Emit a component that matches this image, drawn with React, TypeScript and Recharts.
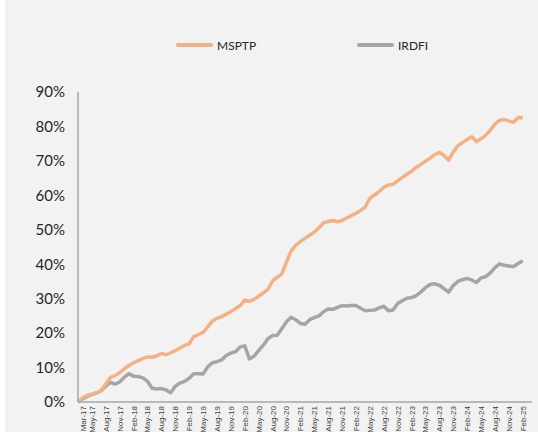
import { Line, LineChart, XAxis, YAxis } from "recharts";

// monthly index 0 = Feb-17 ... 96 = Feb-25, cumulative % change
const MSPTP = [
  0, 1.2, 1.9, 2.3, 2.7, 3.4, 5.2, 7.1, 7.7, 8.5,
  9.6, 10.6, 11.4, 12.0, 12.6, 13.1, 13.0, 13.4, 14.1, 13.7,
  14.3, 14.9, 15.7, 16.4, 16.9, 19.0, 19.6, 20.2, 21.8, 23.5,
  24.3, 24.8, 25.5, 26.3, 27.1, 28.0, 29.6, 29.2, 29.8, 30.7,
  31.7, 32.7, 35.2, 36.2, 37.2, 40.6, 43.8, 45.5, 46.6, 47.5,
  48.4, 49.3, 50.6, 52.0, 52.4, 52.7, 52.3, 52.7, 53.4, 54.1,
  54.8, 55.6, 56.6, 59.1, 60.1, 61.1, 62.3, 63.0, 63.2, 64.2,
  65.2, 66.1, 67.0, 68.1, 69.0, 69.9, 70.8, 71.8, 72.5, 71.6,
  70.2, 72.6, 74.4, 75.3, 76.2, 77.0, 75.6, 76.4, 77.4, 78.9,
  80.7, 81.8, 82.0, 81.6, 81.2, 82.6, 82.5,
];

const IRDFI = [
  0, 0.9, 1.6, 2.2, 2.6, 3.3, 4.6, 5.7, 5.2, 5.8,
  7.2, 8.2, 7.5, 7.4, 7.0, 6.0, 4.0, 3.8, 3.9, 3.5,
  2.7, 4.6, 5.5, 6.0, 6.9, 8.2, 8.2, 8.1, 10.2, 11.4,
  11.7, 12.2, 13.5, 14.2, 14.6, 16.0, 16.3, 12.5, 13.3, 14.9,
  16.5, 18.4, 19.3, 19.4, 21.3, 23.3, 24.6, 23.9, 22.8, 22.6,
  23.9, 24.5, 25.0, 26.2, 27.0, 26.9, 27.5, 28.0, 27.9, 28.0,
  28.0, 27.2, 26.5, 26.6, 26.7, 27.3, 27.8, 26.5, 26.7, 28.6,
  29.4, 30.1, 30.3, 30.9, 31.9, 33.2, 34.1, 34.3, 33.9, 32.9,
  31.9, 33.8, 35.0, 35.5, 35.9, 35.4, 34.7, 36.0, 36.4, 37.5,
  39.0, 40.1, 39.7, 39.5, 39.3, 40.2, 41.0,
];

const tickIdx = [
  1, 3, 6, 9, 12, 15, 18, 21, 24, 27, 30, 33, 36, 39, 42, 45, 48,
  51, 54, 57, 60, 63, 66, 69, 72, 75, 78, 81, 84, 87, 90, 93, 96,
];
const tickLabels = [
  "Mar-17", "May-17", "Aug-17", "Nov-17", "Feb-18", "May-18", "Aug-18", "Nov-18",
  "Feb-19", "May-19", "Aug-19", "Nov-19", "Feb-20", "May-20", "Aug-20", "Nov-20",
  "Feb-21", "May-21", "Aug-21", "Nov-21", "Feb-22", "May-22", "Aug-22", "Nov-22",
  "Feb-23", "May-23", "Aug-23", "Nov-23", "Feb-24", "May-24", "Aug-24", "Nov-24",
  "Feb-25",
];
const yTicks = [0, 10, 20, 30, 40, 50, 60, 70, 80, 90];

const data = MSPTP.map((v, i) => ({ i, MSPTP: v, IRDFI: IRDFI[i] }));

const ORANGE = "#F4B183";
const GREY = "#A5A5A5";
const FONT = "Lato, 'Liberation Sans', sans-serif";

function XTick({ x, y, payload }: any) {
  const label = tickLabels[tickIdx.indexOf(payload.value)] ?? "";
  return (
    <g transform={`translate(${x},${y})`}>
      <text
        transform="rotate(-90)"
        x={-4}
        y={3}
        textAnchor="end"
        fontSize={8}
        fontFamily="'Liberation Sans', sans-serif"
        fill="#404040"
      >
        {label}
      </text>
    </g>
  );
}

function LegendItem({ color, label, left }: { color: string; label: string; left: number }) {
  return (
    <div style={{ position: "absolute", left, top: 37, display: "flex", alignItems: "center", height: 16 }}>
      <span style={{ width: 37, height: 4, borderRadius: 2, background: color, marginRight: 4 }} />
      <span style={{ fontSize: 12, fontFamily: FONT, color: "#262626" }}>{label}</span>
    </div>
  );
}

export default function App() {
  return (
    <div style={{ position: "relative", width: 538, height: 432, background: "#fff", overflow: "hidden" }}>
      <style>{`body{margin:0}`}</style>
      <div style={{ position: "absolute", left: 5, top: 0, width: 533, height: 432, background: "#F2F2F2" }}>
        <LegendItem color={ORANGE} label="MSPTP" left={171} />
        <LegendItem color={GREY} label="IRDFI" left={352} />
        <LineChart width={533} height={432} data={data} margin={{ top: 92, right: 6, left: 0, bottom: 0 }}>
          <XAxis
            dataKey="i"
            type="number"
            domain={[0, 98]}
            ticks={tickIdx}
            interval={0}
            tick={<XTick />}
            tickLine={false}
            tickSize={0}
            tickMargin={0}
            axisLine={{ stroke: "#A6A6A6", strokeWidth: 1.5 }}
            height={30}
          />
          <YAxis
            domain={[0, 90]}
            ticks={yTicks}
            interval={0}
            tickFormatter={(v) => `${v}%`}
            tickLine={false}
            tickSize={0}
            tickMargin={13}
            axisLine={{ stroke: "#A6A6A6", strokeWidth: 1.5 }}
            width={73}
            tick={{ fontSize: 15, fontFamily: FONT, fill: "#262626" }}
          />
          <Line
            dataKey="IRDFI"
            stroke={GREY}
            strokeWidth={3.5}
            dot={false}
            strokeLinejoin="round"
            isAnimationActive={false}
          />
          <Line
            dataKey="MSPTP"
            stroke={ORANGE}
            strokeWidth={3.5}
            dot={false}
            strokeLinejoin="round"
            isAnimationActive={false}
          />
        </LineChart>
      </div>
    </div>
  );
}
